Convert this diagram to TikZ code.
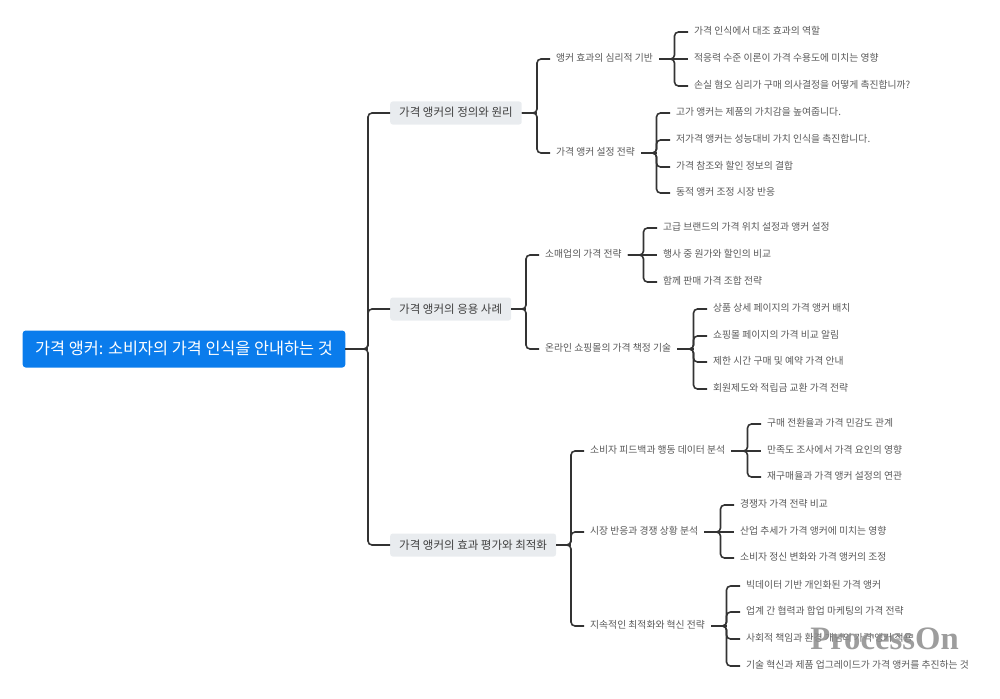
\documentclass[tikz,border=0pt]{standalone}
\usepackage{fontspec}
\setmainfont{Noto Sans CJK KR}
\newfontfamily\markfont{Liberation Serif}
\usepackage{xcolor}
\definecolor{rootblue}{HTML}{0A7CEC}
\definecolor{topicgray}{HTML}{E9ECEF}
\definecolor{linkgray}{HTML}{333333}
\usetikzlibrary{positioning}

\begin{document}
\begin{tikzpicture}[
    x=1pt, y=-1pt,
    rootnode/.style={fill=rootblue, rounded corners=3pt, text=white, anchor=west,
                     inner xsep=12.5pt, inner ysep=10pt, text height=14pt, text depth=3pt,
                     font=\fontsize{16.3pt}{18pt}\selectfont},
    topic/.style={fill=topicgray, rounded corners=2.5pt, text=black!75, anchor=west,
                  inner xsep=9pt, inner ysep=5.5pt, text height=10pt, text depth=2pt,
                  font=\fontsize{11.5pt}{13pt}\selectfont},
    subtopic/.style={text=black!65, anchor=west, inner xsep=6pt, inner ysep=0pt,
                     text height=9pt, text depth=4pt,
                     font=\fontsize{9.8pt}{11pt}\selectfont},
    leaf/.style={subtopic},
    link/.style={draw=linkgray, line width=1.6pt, rounded corners=4pt},
    stub/.style={draw=linkgray, line width=2.4pt},
    elbow/.style={to path={-| ([xshift=-#1]\tikztotarget) -- (\tikztotarget)}},
    elbow/.default=13.5pt,
    flat/.style={to path={-- (\tikztotarget)}},
]
\useasboundingbox (0,0) rectangle (1000,698);

% Root
\node[rootnode] (root) at (22.5,349) {가격 앵커: 소비자의 가격 인식을 안내하는 것};

% Main topics
\foreach \name/\ypos/\txt in {
    define/113/가격 앵커의 정의와 원리,
    usecase/309/가격 앵커의 응용 사례,
    effect/545/가격 앵커의 효과 평가와 최적화}
{
    \node[topic] (\name) at (390,\ypos) {\txt};
    \draw[link] (root.east) to[elbow=22pt] (\name.west);
    \draw[stub, line width=2pt] (root.east) -- ([xshift=-22pt]\name.west |- root.east);
}

% Subtopics
\foreach \parent/\name/\xpos/\ypos/\txt in {
    define/basis/550/59/앵커 효과의 심리적 기반,
    define/setting/550/153/가격 앵커 설정 전략,
    usecase/retail/539/255/소매업의 가격 전략,
    usecase/online/539/349/온라인 쇼핑몰의 가격 책정 기술,
    effect/feedback/584/451/소비자 피드백과 행동 데이터 분석,
    effect/market/584/532/시장 반응과 경쟁 상황 분석,
    effect/innovate/584/626/지속적인 최적화와 혁신 전략}
{
    \node[subtopic] (\name) at (\xpos,\ypos) {\txt};
    \draw[link] (\parent.east) to[elbow=13pt] (\name.west);
    \draw[stub] (\parent.east) -- ([xshift=-13pt]\name.west |- \parent.east);
}

% Leaves
\foreach \parent/\route/\xpos/\ypos/\txt in {
    basis/elbow/688/32/가격 인식에서 대조 효과의 역할,
    basis/flat/688/59/적응력 수준 이론이 가격 수용도에 미치는 영향,
    basis/elbow/688/86/손실 혐오 심리가 구매 의사결정을 어떻게 촉진합니까?,
    setting/elbow/670/113/고가 앵커는 제품의 가치감을 높여줍니다.,
    setting/elbow/670/140/저가격 앵커는 성능대비 가치 인식을 촉진합니다.,
    setting/elbow/670/167/가격 참조와 할인 정보의 결합,
    setting/elbow/670/193/동적 앵커 조정 시장 반응,
    retail/elbow/657/228/고급 브랜드의 가격 위치 설정과 앵커 설정,
    retail/flat/657/255/행사 중 원가와 할인의 비교,
    retail/elbow/657/282/함께 판매 가격 조합 전략,
    online/elbow/707/309/상품 상세 페이지의 가격 앵커 배치,
    online/elbow/707/336/쇼핑몰 페이지의 가격 비교 알림,
    online/elbow/707/362/제한 시간 구매 및 예약 가격 안내,
    online/elbow/707/389/회원제도와 적립금 교환 가격 전략,
    feedback/elbow/761/424/구매 전환율과 가격 민감도 관계,
    feedback/flat/761/451/만족도 조사에서 가격 요인의 영향,
    feedback/elbow/761/477/재구매율과 가격 앵커 설정의 연관,
    market/elbow/734/505/경쟁자 가격 전략 비교,
    market/flat/734/532/산업 추세가 가격 앵커에 미치는 영향,
    market/elbow/734/558/소비자 정신 변화와 가격 앵커의 조정,
    innovate/elbow/740/586/빅데이터 기반 개인화된 가격 앵커,
    innovate/elbow/740/612/업계 간 협력과 합업 마케팅의 가격 전략,
    innovate/elbow/740/639/사회적 책임과 환경 개념의 가격 앵커 적용,
    innovate/elbow/740/666/기술 혁신과 제품 업그레이드가 가격 앵커를 추진하는 것}
{
    \node[leaf] (leaf\ypos) at (\xpos,\ypos) {\txt};
    \draw[link] (\parent.east) to[\route] (leaf\ypos.west);
    \draw[stub] (\parent.east) -- ([xshift=-13.5pt]leaf\ypos.west |- \parent.east);
}

% Watermark
\node[text=black!45, text opacity=0.85, inner sep=0pt,
      font=\markfont\bfseries\fontsize{32.7pt}{34pt}\selectfont] (mark) at (884.5,639) {ProcessOn};

\end{tikzpicture}
\end{document}
